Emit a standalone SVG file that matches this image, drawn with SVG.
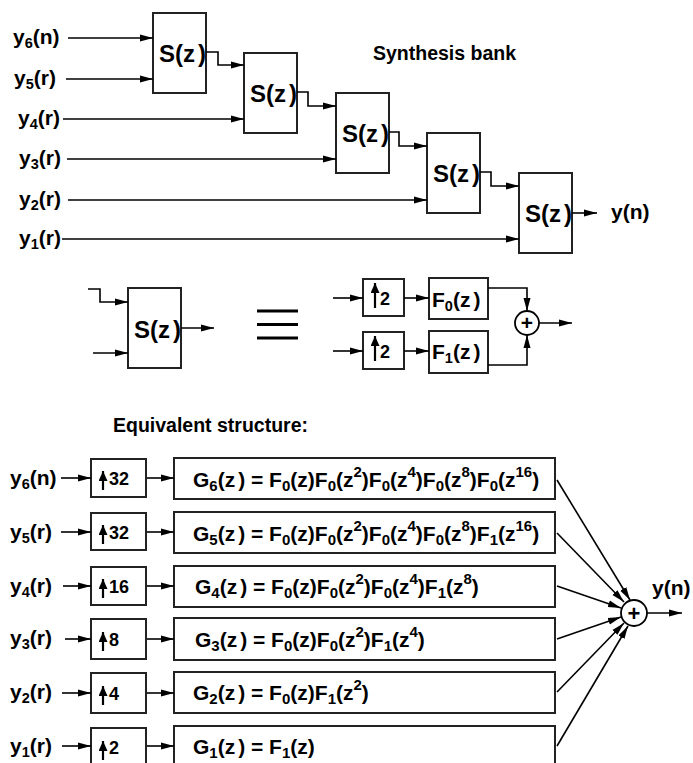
<svg xmlns="http://www.w3.org/2000/svg" width="693" height="763" viewBox="0 0 693 763">
<style>
text{font-family:"Liberation Sans",Arial,sans-serif;font-weight:bold;fill:#000}
.l{font-size:21px}
.s{font-size:14.5px}
.gs{font-size:15px}
.sz{font-size:24px}
.f{font-size:21px}
.n{font-size:18px}
.g{font-size:21px}
.box{fill:#fff;stroke:#222;stroke-width:2}
.w{fill:none;stroke:#000;stroke-width:1.6}
.up{fill:none;stroke:#000;stroke-width:2.2}
.eq{stroke:#000;stroke-width:3}
</style>
<defs>
<marker id="a" markerWidth="13" markerHeight="8" refX="13" refY="4" orient="auto" markerUnits="userSpaceOnUse"><path d="M0,0.5 L13,4 L0,7.5 z" fill="#000"/></marker>
<marker id="u" markerWidth="10" markerHeight="9" refX="10" refY="4.5" orient="auto" markerUnits="userSpaceOnUse"><path d="M0,0 L10,4.5 L0,9 z" fill="#000"/></marker>
</defs>

<!-- Top synthesis bank -->
<g id="labels-top">
<text class="l" x="13" y="44">y<tspan class="s" dy="4">6</tspan><tspan dy="-4">(n)</tspan></text>
<text class="l" x="14" y="85">y<tspan class="s" dy="4">5</tspan><tspan dy="-4">(r)</tspan></text>
<text class="l" x="18" y="125">y<tspan class="s" dy="4">4</tspan><tspan dy="-4">(r)</tspan></text>
<text class="l" x="19" y="165">y<tspan class="s" dy="4">3</tspan><tspan dy="-4">(r)</tspan></text>
<text class="l" x="19" y="206">y<tspan class="s" dy="4">2</tspan><tspan dy="-4">(r)</tspan></text>
<text class="l" x="19" y="245">y<tspan class="s" dy="4">1</tspan><tspan dy="-4">(r)</tspan></text>
<text class="l" x="373" y="60" style="font-size:19.5px">Synthesis bank</text>
<text class="l" x="611" y="219">y(n)</text>
</g>
<g id="S1"><rect class="box" x="153" y="13" width="53" height="80"/><text class="sz" x="159" y="62">S(z<tspan dx="3">)</tspan></text></g>
<g id="S2"><rect class="box" x="244" y="53" width="53" height="80"/><text class="sz" x="250" y="102">S(z<tspan dx="3">)</tspan></text></g>
<g id="S3"><rect class="box" x="336" y="93" width="53" height="80"/><text class="sz" x="342" y="142">S(z<tspan dx="3">)</tspan></text></g>
<g id="S4"><rect class="box" x="427" y="133" width="53" height="80"/><text class="sz" x="433" y="182">S(z<tspan dx="3">)</tspan></text></g>
<g id="S5"><rect class="box" x="519" y="173" width="53" height="80"/><text class="sz" x="525" y="222">S(z<tspan dx="3">)</tspan></text></g>
<g id="conn-top">
<path class="w" marker-end="url(#a)" d="M68,38 H153"/>
<path class="w" marker-end="url(#a)" d="M66,79 H153"/>
<path class="w" marker-end="url(#a)" d="M63,119 H244"/>
<path class="w" marker-end="url(#a)" d="M67,159 H336"/>
<path class="w" marker-end="url(#a)" d="M68,200 H427"/>
<path class="w" marker-end="url(#a)" d="M62,239 H519"/>
<path class="w" marker-end="url(#a)" d="M206,52 H218 V65 H244"/>
<path class="w" marker-end="url(#a)" d="M297,92 H308 V106 H336"/>
<path class="w" marker-end="url(#a)" d="M389,132 H399 V146 H427"/>
<path class="w" marker-end="url(#a)" d="M480,172 H491 V186 H519"/>
<path class="w" marker-end="url(#a)" d="M572,213 H597"/>
</g>

<!-- Middle equivalence -->
<g id="Sm"><rect class="box" x="128" y="288" width="53" height="80"/><text class="sz" x="134" y="338">S(z<tspan dx="3">)</tspan></text></g>
<g id="equiv"><line class="eq" x1="257" y1="311" x2="298" y2="311"/><line class="eq" x1="257" y1="324.5" x2="298" y2="324.5"/><line class="eq" x1="257" y1="338" x2="298" y2="338"/></g>
<g id="U2a"><rect class="box" x="363" y="279" width="41" height="37"/><path class="up" marker-end="url(#u)" d="M375,308 V283"/><text class="n" x="380" y="305">2</text></g>
<g id="U2b"><rect class="box" x="363" y="332" width="41" height="37"/><path class="up" marker-end="url(#u)" d="M375,361 V336"/><text class="n" x="380" y="358">2</text></g>
<g id="F0"><rect class="box" x="429" y="278" width="59" height="41"/><text class="f" x="432" y="307">F<tspan class="s" dy="4">0</tspan><tspan dy="-4">(z</tspan><tspan dx="3">)</tspan></text></g>
<g id="F1"><rect class="box" x="429" y="331" width="59" height="42"/><text class="f" x="432" y="359">F<tspan class="s" dy="4">1</tspan><tspan dy="-4">(z</tspan><tspan dx="3">)</tspan></text></g>
<g id="sum1"><circle cx="527" cy="323" r="12" fill="#fff" stroke="#000" stroke-width="1.8"/><text x="527" y="330" text-anchor="middle" style="font-size:21px">+</text></g>
<g id="conn-mid">
<path class="w" marker-end="url(#a)" d="M88,289 H100 V302 H128"/>
<path class="w" marker-end="url(#a)" d="M93,353 H128"/>
<path class="w" marker-end="url(#a)" d="M181,328 H214"/>
<path class="w" marker-end="url(#a)" d="M333,298 H363"/>
<path class="w" marker-end="url(#a)" d="M333,351 H363"/>
<path class="w" marker-end="url(#a)" d="M404,298 H429"/>
<path class="w" marker-end="url(#a)" d="M404,351 H429"/>
<path class="w" marker-end="url(#a)" d="M488,288 H527 V311"/>
<path class="w" marker-end="url(#a)" d="M488,365 H527 V335"/>
<path class="w" marker-end="url(#a)" d="M539,323 H572"/>
</g>

<!-- Equivalent structure -->
<text class="l" x="113" y="432" style="font-size:19.5px">Equivalent structure:</text>
<g id="labels-bot">
<text class="l" x="10" y="485">y<tspan class="s" dy="4">6</tspan><tspan dy="-4">(n)</tspan></text>
<text class="l" x="10" y="539">y<tspan class="s" dy="4">5</tspan><tspan dy="-4">(r)</tspan></text>
<text class="l" x="10" y="593">y<tspan class="s" dy="4">4</tspan><tspan dy="-4">(r)</tspan></text>
<text class="l" x="10" y="645">y<tspan class="s" dy="4">3</tspan><tspan dy="-4">(r)</tspan></text>
<text class="l" x="10" y="699">y<tspan class="s" dy="4">2</tspan><tspan dy="-4">(r)</tspan></text>
<text class="l" x="10" y="753">y<tspan class="s" dy="4">1</tspan><tspan dy="-4">(r)</tspan></text>
<text class="l" x="652" y="595">y(n)</text>
</g>
<g id="U32a"><rect class="box" x="91" y="459" width="55" height="38"/><path class="up" marker-end="url(#u)" d="M103,490 V471"/><text class="n" x="109" y="485">32</text></g>
<g id="U32b"><rect class="box" x="91" y="513" width="55" height="37"/><path class="up" marker-end="url(#u)" d="M103,544 V525"/><text class="n" x="109" y="539">32</text></g>
<g id="U16"><rect class="box" x="91" y="567" width="55" height="38"/><path class="up" marker-end="url(#u)" d="M103,598 V579"/><text class="n" x="109" y="593">16</text></g>
<g id="U8"><rect class="box" x="91" y="619" width="55" height="40"/><path class="up" marker-end="url(#u)" d="M103,651 V632"/><text class="n" x="109" y="646">8</text></g>
<g id="U4"><rect class="box" x="91" y="673" width="55" height="40"/><path class="up" marker-end="url(#u)" d="M103,705 V686"/><text class="n" x="109" y="700">4</text></g>
<g id="U2"><rect class="box" x="91" y="728" width="55" height="40"/><path class="up" marker-end="url(#u)" d="M103,760 V741"/><text class="n" x="109" y="754">2</text></g>

<g id="G6"><rect class="box" x="174" y="458" width="381" height="41"/><text class="g" x="193" y="487">G<tspan class="gs" dy="4">6</tspan><tspan dy="-4">(z</tspan><tspan dx="3">) = F</tspan><tspan class="gs" dy="4">0</tspan><tspan dy="-4">(z)F</tspan><tspan class="gs" dy="4">0</tspan><tspan dy="-4">(z</tspan><tspan class="gs" dy="-10">2</tspan><tspan dy="10">)F</tspan><tspan class="gs" dy="4">0</tspan><tspan dy="-4">(z</tspan><tspan class="gs" dy="-10">4</tspan><tspan dy="10">)F</tspan><tspan class="gs" dy="4">0</tspan><tspan dy="-4">(z</tspan><tspan class="gs" dy="-10">8</tspan><tspan dy="10">)F</tspan><tspan class="gs" dy="4">0</tspan><tspan dy="-4">(z</tspan><tspan class="gs" dy="-10">16</tspan><tspan dy="10">)</tspan></text></g>
<g id="G5"><rect class="box" x="174" y="512" width="381" height="41"/><text class="g" x="193" y="541">G<tspan class="gs" dy="4">5</tspan><tspan dy="-4">(z</tspan><tspan dx="3">) = F</tspan><tspan class="gs" dy="4">0</tspan><tspan dy="-4">(z)F</tspan><tspan class="gs" dy="4">0</tspan><tspan dy="-4">(z</tspan><tspan class="gs" dy="-10">2</tspan><tspan dy="10">)F</tspan><tspan class="gs" dy="4">0</tspan><tspan dy="-4">(z</tspan><tspan class="gs" dy="-10">4</tspan><tspan dy="10">)F</tspan><tspan class="gs" dy="4">0</tspan><tspan dy="-4">(z</tspan><tspan class="gs" dy="-10">8</tspan><tspan dy="10">)F</tspan><tspan class="gs" dy="4">1</tspan><tspan dy="-4">(z</tspan><tspan class="gs" dy="-10">16</tspan><tspan dy="10">)</tspan></text></g>
<g id="G4"><rect class="box" x="174" y="566" width="381" height="41"/><text class="g" x="195" y="594">G<tspan class="gs" dy="4">4</tspan><tspan dy="-4">(z</tspan><tspan dx="3">) = F</tspan><tspan class="gs" dy="4">0</tspan><tspan dy="-4">(z)F</tspan><tspan class="gs" dy="4">0</tspan><tspan dy="-4">(z</tspan><tspan class="gs" dy="-10">2</tspan><tspan dy="10">)F</tspan><tspan class="gs" dy="4">0</tspan><tspan dy="-4">(z</tspan><tspan class="gs" dy="-10">4</tspan><tspan dy="10">)F</tspan><tspan class="gs" dy="4">1</tspan><tspan dy="-4">(z</tspan><tspan class="gs" dy="-10">8</tspan><tspan dy="10">)</tspan></text></g>
<g id="G3"><rect class="box" x="174" y="618" width="381" height="42"/><text class="g" x="195" y="647">G<tspan class="gs" dy="4">3</tspan><tspan dy="-4">(z</tspan><tspan dx="3">) = F</tspan><tspan class="gs" dy="4">0</tspan><tspan dy="-4">(z)F</tspan><tspan class="gs" dy="4">0</tspan><tspan dy="-4">(z</tspan><tspan class="gs" dy="-10">2</tspan><tspan dy="10">)F</tspan><tspan class="gs" dy="4">1</tspan><tspan dy="-4">(z</tspan><tspan class="gs" dy="-10">4</tspan><tspan dy="10">)</tspan></text></g>
<g id="G2"><rect class="box" x="174" y="672" width="381" height="41"/><text class="g" x="193" y="700">G<tspan class="gs" dy="4">2</tspan><tspan dy="-4">(z</tspan><tspan dx="3">) = F</tspan><tspan class="gs" dy="4">0</tspan><tspan dy="-4">(z)F</tspan><tspan class="gs" dy="4">1</tspan><tspan dy="-4">(z</tspan><tspan class="gs" dy="-10">2</tspan><tspan dy="10">)</tspan></text></g>
<g id="G1"><rect class="box" x="174" y="726" width="381" height="42"/><text class="g" x="193" y="754">G<tspan class="gs" dy="4">1</tspan><tspan dy="-4">(z</tspan><tspan dx="3">) = F</tspan><tspan class="gs" dy="4">1</tspan><tspan dy="-4">(z)</tspan></text></g>
<g id="sum2"><circle cx="634" cy="613" r="13" fill="#fff" stroke="#000" stroke-width="1.8"/><text x="634" y="620.5" text-anchor="middle" style="font-size:22px">+</text></g>
<g id="conn-bot">
<path class="w" marker-end="url(#a)" d="M61,478 H91"/>
<path class="w" marker-end="url(#a)" d="M61,532 H91"/>
<path class="w" marker-end="url(#a)" d="M63,586 H91"/>
<path class="w" marker-end="url(#a)" d="M65,639 H91"/>
<path class="w" marker-end="url(#a)" d="M62,693 H91"/>
<path class="w" marker-end="url(#a)" d="M62,746 H91"/>
<path class="w" marker-end="url(#a)" d="M147,478 H174"/>
<path class="w" marker-end="url(#a)" d="M147,532 H174"/>
<path class="w" marker-end="url(#a)" d="M147,586 H174"/>
<path class="w" marker-end="url(#a)" d="M147,639 H174"/>
<path class="w" marker-end="url(#a)" d="M147,693 H174"/>
<path class="w" marker-end="url(#a)" d="M147,746 H174"/>
<path class="w" marker-end="url(#a)" d="M557,480 L630,600"/>
<path class="w" marker-end="url(#a)" d="M557,533 L624,602"/>
<path class="w" marker-end="url(#a)" d="M557,586 L621,608"/>
<path class="w" marker-end="url(#a)" d="M557,639 L621,617"/>
<path class="w" marker-end="url(#a)" d="M557,692 L624,623"/>
<path class="w" marker-end="url(#a)" d="M557,746 L628,626"/>
<path class="w" marker-end="url(#a)" d="M647,613 H682"/>
</g>
</svg>
